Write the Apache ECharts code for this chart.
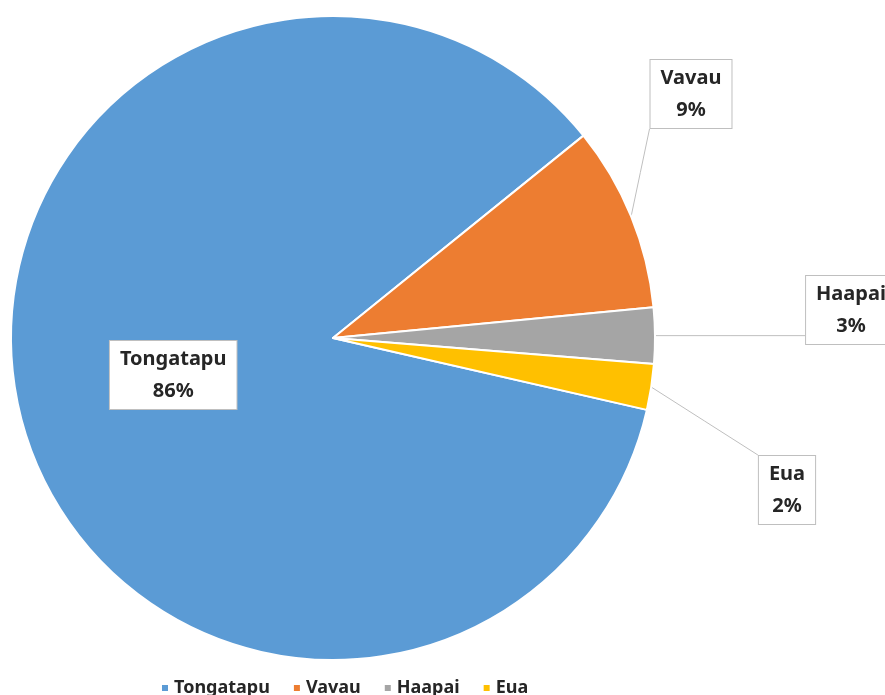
<!DOCTYPE html>
<html lang="en">
<head>
    <meta charset="UTF-8">
    <title>Tonga pie</title>
    <script src="https://cdn.jsdelivr.net/npm/echarts@6/dist/echarts.min.js"></script>
    <style>
        html, body { margin: 0; padding: 0; background: #fff; }
    </style>
</head>
<body>
<div id="main" style="width: 885px;height:695px;"></div>
<script type="text/javascript">
    // data
    var regions = ["Tongatapu", "Vavau", "Haapai", "Eua"];
    var shares = [85.6, 9.3, 2.8, 2.3];
    var colors = ["#5B9BD5", "#ED7D31", "#A5A5A5", "#FFC000"];

    // where the callout boxes sit (centres, px); null = inside the slice
    var calloutPos = [null, [691, 94], [851, 310], [787, 490]];

    var myChart = echarts.init(document.getElementById("main"));

    var boxStyle = {
        color: "#262626",
        fontFamily: "Noto Sans",
        fontWeight: "bold",
        fontSize: 20,
        lineHeight: 32,
        backgroundColor: "#fff",
        borderColor: "#bfbfbf",
        borderWidth: 1,
        padding: [2, 10]
    };

    var option = {
        color: colors,
        legend: {
            top: 674,
            left: 155,
            icon: "rect",
            itemWidth: 8,
            itemHeight: 8,
            itemGap: 22,
            textStyle: {
                color: "#262626",
                fontFamily: "Noto Sans",
                fontWeight: "bold",
                fontSize: 18
            },
            data: regions
        },
        series: [{
            type: "pie",
            center: [333, 338],
            radius: 322,
            startAngle: -12.9,
            clockwise: true,
            avoidLabelOverlap: false,
            itemStyle: { borderColor: "#fff", borderWidth: 2 },
            label: Object.assign({
                formatter: function (p) {
                    return p.name + "\n" + Math.round(p.percent) + "%";
                }
            }, boxStyle),
            labelLine: {
                show: true,
                length: 10,
                length2: 10,
                lineStyle: { color: "#bfbfbf", width: 1 }
            },
            labelLayout: function (params) {
                var pos = calloutPos[params.dataIndex];
                if (!pos) return {};
                var w = params.labelRect.width, h = params.labelRect.height;
                var start = params.labelLinePoints[0];
                var x0 = pos[0] - w / 2, y0 = pos[1] - h / 2;
                var end = [
                    Math.min(Math.max(start[0], x0), x0 + w),
                    Math.min(Math.max(start[1], y0), y0 + h)
                ];
                var mid = [(start[0] + end[0]) / 2, (start[1] + end[1]) / 2];
                return {
                    x: pos[0], y: pos[1], align: "center", verticalAlign: "middle",
                    labelLinePoints: [start, mid, end]
                };
            },
            data: regions.map(function (name, i) {
                var item = { name: name, value: shares[i] };
                if (!calloutPos[i]) {
                    item.label = { position: "inside" };
                    item.labelLine = { show: false };
                }
                return item;
            })
        }]
    };

    myChart.setOption(option);
</script>
</body>
</html>
